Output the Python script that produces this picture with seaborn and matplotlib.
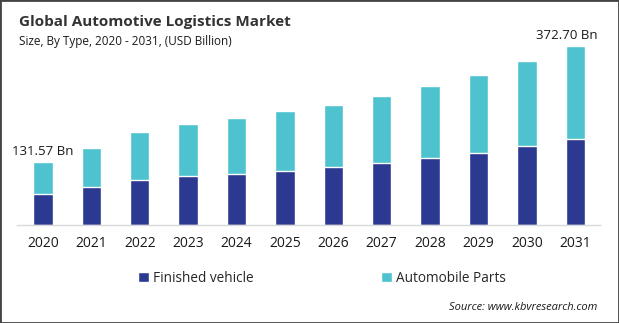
import matplotlib
matplotlib.use("Agg")
import matplotlib.pyplot as plt
import seaborn as sns
import pandas as pd
from matplotlib.patches import Patch, Rectangle

years = ["2020", "2021", "2022", "2023", "2024", "2025", "2026", "2027", "2028", "2029", "2030", "2031"]
finished_vehicle = [64.7, 79.3, 94.0, 102.0, 106.0, 113.0, 121.8, 129.5, 140.5, 150.0, 165.0, 179.6]
automobile_parts = [66.87, 81.5, 100.0, 109.0, 117.0, 125.0, 128.8, 139.5, 149.5, 163.0, 177.0, 193.1]
first_label = "131.57 Bn"
last_label = "372.70 Bn"

NAVY = "#2B3990"
CYAN = "#4EC3CF"

sns.set_theme(style="white")
plt.rcParams["font.family"] = ["Open Sans", "DejaVu Sans"]

df = pd.DataFrame({"year": years, "fv": finished_vehicle, "ap": automobile_parts})
df["total"] = df["fv"] + df["ap"]

fig = plt.figure(figsize=(6.19, 3.23), dpi=100)
ax = fig.add_axes([17/619, (323-225)/323, (600-17)/619, 185/323])

sns.barplot(data=df, x="year", y="total", color=CYAN, width=0.4, saturation=1, ax=ax)
sns.barplot(data=df, x="year", y="fv", color=NAVY, width=0.4, saturation=1, ax=ax)

ax.set_xlim(-0.537, 11.51)
ax.set_ylim(0, 385.7)
ax.set_xlabel("")
ax.set_ylabel("")
ax.set_yticks([])
for s in ["top", "right", "left"]:
    ax.spines[s].set_visible(False)
ax.spines["bottom"].set_color("#D9D9D9")
ax.spines["bottom"].set_linewidth(1.0)
ax.tick_params(axis="x", length=0, pad=8, labelsize=10, colors="#1a1a1a")

ax.annotate(first_label, (0, df["total"].iloc[0]), xytext=(0, 3), textcoords="offset points",
            ha="center", va="bottom", fontsize=9.5, color="#1a1a1a")
ax.annotate(last_label, (11, df["total"].iloc[-1]), xytext=(-6, 3), textcoords="offset points",
            ha="center", va="bottom", fontsize=9.5, color="#1a1a1a")

fig.text(19/619, 1 - 22/323, "Global Automotive Logistics Market", fontsize=11, fontweight="bold",
         color="#333333", va="center", ha="left")
fig.text(19/619, 1 - 42/323, "Size, By Type, 2020 - 2031, (USD Billion)", fontsize=8.5,
         color="#1a1a1a", va="center", ha="left")

handles = [Patch(facecolor=NAVY, label="Finished vehicle"), Patch(facecolor=CYAN, label="Automobile Parts")]
fig.legend(handles=handles, loc="center", bbox_to_anchor=(322/619, 1 - 278/323), ncol=2, frameon=False,
           fontsize=9.8, handlelength=0.8, handleheight=0.8, handletextpad=0.3, columnspacing=9.3)

fig.text(597/619, 1 - 307/323, "Source: www.kbvresearch.com", fontsize=8, style="italic",
         color="#1a1a1a", ha="right", va="center")

fig.patches.append(Rectangle((0, 0), 1, 1, transform=fig.transFigure, fill=False,
                             edgecolor="#444444", linewidth=2, zorder=10))

fig.savefig("out.png", dpi=100)
